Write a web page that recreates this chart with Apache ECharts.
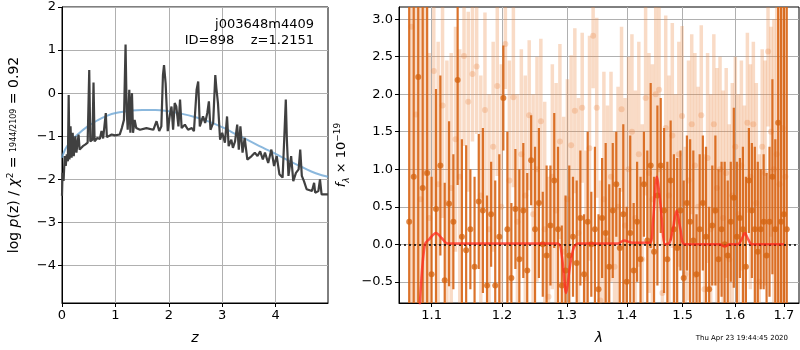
<!DOCTYPE html>
<html>
<head>
<meta charset="utf-8">
<script src="https://cdn.jsdelivr.net/npm/echarts@6/dist/echarts.min.js"></script>
<style>
  html, body { margin: 0; padding: 0; background: #fff; }
  #main { width: 800px; height: 350px; }
</style>
</head>
<body>
<div id="main"></div>
<script>
// ---- left panel: log p(z) ----
var pzZ = [0.00,0.01,0.03,0.05,0.07,0.09,0.11,0.125,0.14,0.16,
  0.18,0.20,0.22,0.25,0.27,0.31,0.33,0.39,0.44,0.48,
  0.51,0.53,0.57,0.59,0.61,0.66,0.71,0.74,0.77,0.82,
  0.84,0.93,0.99,1.08,1.12,1.16,1.19,1.21,1.23,1.26,
  1.28,1.29,1.31,1.33,1.36,1.39,1.46,1.58,1.71,1.77,
  1.82,1.86,1.89,1.91,1.94,1.98,2.02,2.05,2.08,2.11,
  2.14,2.18,2.21,2.24,2.30,2.36,2.43,2.47,2.52,2.55,
  2.58,2.64,2.68,2.72,2.75,2.78,2.83,2.87,2.89,2.92,
  2.96,3.00,3.05,3.09,3.12,3.17,3.20,3.24,3.28,3.31,
  3.34,3.38,3.42,3.47,3.55,3.61,3.66,3.71,3.76,3.80,
  3.86,3.92,3.97,4.02,4.07,4.13,4.16,4.19,4.21,4.24,
  4.29,4.33,4.38,4.43,4.46,4.49,4.53,4.58,4.68,4.72,
  4.74,4.80,4.83,4.86,4.98];
var pzLog = [-2.38,-1.85,-2.04,-1.46,-1.69,-1.42,-1.58,-0.04,-1.54,-0.77,
  -1.50,-0.92,-1.46,-1.00,-1.38,-0.96,-1.31,-1.23,-1.19,-1.15,
  0.54,-1.12,-1.08,0.25,-1.12,-1.04,-1.06,-0.88,-1.05,-0.46,
  -1.02,-0.96,-0.98,-0.96,-0.81,-0.62,1.13,-0.38,-0.85,0.08,
  -0.92,-0.38,0.00,-0.92,-0.62,-0.81,-0.85,-0.81,-0.85,-0.65,
  -0.88,-0.77,0.42,0.65,0.23,-0.88,-0.50,-0.31,-0.85,-0.23,
  -0.31,-0.77,-0.15,-0.81,-0.73,-0.85,-0.81,-0.88,0.08,0.27,
  -0.77,-0.54,-0.69,-0.46,-0.19,-0.85,-0.69,0.42,0.12,-0.23,
  -1.08,-0.92,-1.15,-0.54,-1.23,-1.08,-1.27,-1.12,-0.73,-1.31,
  -0.77,-1.38,-1.04,-1.54,-1.46,-1.38,-1.46,-1.35,-1.54,-1.38,
  -1.62,-1.31,-1.69,-1.46,-1.88,-1.96,-1.08,-0.15,-1.08,-1.92,
  -1.46,-2.04,-1.85,-1.77,-1.31,-1.92,-2.04,-2.23,-2.27,-2.08,
  -2.31,-2.27,-2.00,-2.35,-2.35];
// smooth template curve
var tplZ = [0,0.05,0.1,0.2,0.3,0.45,0.65,0.85,1.05,1.25,1.5,1.75,2.0,2.25,2.5,2.75,3.0,3.25,3.5,3.75,4.0,4.25,4.5,4.75,4.98];
var tplLog = [-1.5,-1.33,-1.22,-1.07,-0.95,-0.8,-0.64,-0.52,-0.45,-0.41,-0.39,-0.39,-0.42,-0.48,-0.56,-0.66,-0.79,-0.95,-1.1,-1.26,-1.41,-1.57,-1.72,-1.86,-1.94];
var zTicks = [0, 1, 2, 3, 4];
var logTicks = [-4, -3, -2, -1, 0, 1, 2];

// ---- right panel: spectrum ----
// darker points (first orient)
var darkLam = [1.070,1.076,1.082,1.088,1.094,1.100,1.106,1.112,1.118,1.124,
  1.130,1.136,1.142,1.148,1.154,1.160,1.166,1.172,1.178,1.184,
  1.190,1.196,1.202,1.208,1.214,1.220,1.226,1.232,1.238,1.244,
  1.250,1.256,1.262,1.268,1.274,1.280,1.286,1.292,1.298,1.304,
  1.310,1.316,1.322,1.328,1.334,1.340,1.346,1.352,1.358,1.364,
  1.370,1.376,1.382,1.388,1.394,1.400,1.406,1.412,1.418,1.424,
  1.430,1.436,1.442,1.448,1.454,1.460,1.466,1.472,1.478,1.484,
  1.490,1.496,1.502,1.508,1.514,1.520,1.526,1.532,1.538,1.544,
  1.550,1.556,1.562,1.568,1.574,1.580,1.586,1.592,1.598,1.604,
  1.610,1.616,1.622,1.628,1.634,1.640,1.646,1.652,1.658,1.664,
  1.670,1.676,1.682,1.688,1.694,1.700,1.706];
var darkFlux = [0.30,0.90,2.23,0.75,0.95,-0.40,0.47,1.05,-0.48,0.54,
  0.30,2.19,0.10,-0.08,0.20,-0.30,0.57,0.45,-0.55,0.40,
  -0.55,0.10,1.95,0.20,-0.45,0.47,-0.20,0.45,-0.35,1.12,
  0.20,0.55,0.00,-0.15,0.25,0.85,0.20,-0.55,-0.35,-0.15,
  0.10,-0.25,0.35,-0.40,0.30,0.00,0.20,-0.60,0.35,0.15,
  -0.30,0.45,0.80,-0.05,0.40,-0.50,0.15,-0.35,0.30,-0.20,
  0.80,0.05,1.05,-0.10,0.65,1.05,0.45,-0.20,0.85,0.20,
  -0.05,0.45,-0.45,0.55,0.30,0.05,-0.40,0.20,0.55,0.10,
  -0.60,0.25,0.45,-0.20,0.20,0.00,-0.15,0.30,0.62,0.10,
  0.35,0.20,-0.30,0.85,0.45,0.20,-0.10,0.20,0.30,-0.15,
  0.30,0.90,0.20,1.62,0.30,0.40,0.20];
var darkErr = [3.5,3.5,3.5,3.0,2.6,1.3,1.6,1.2,1.3,1.1,
  0.9,1.4,1.3,1.4,0.8,1.2,0.9,1.1,1.2,0.7,
  1.4,1.1,0.7,1.3,1.0,0.8,1.2,0.9,1.3,0.6,
  1.1,1.0,0.7,1.2,0.8,0.9,1.1,0.8,1.0,1.2,
  0.8,1.1,0.9,0.8,1.2,0.7,1.1,1.0,0.8,1.2,
  1.1,0.9,0.7,0.8,1.2,1.0,1.3,0.9,0.8,1.1,
  0.7,1.2,1.1,1.0,1.2,0.9,1.1,1.3,0.8,1.0,
  1.2,0.8,1.3,0.9,1.1,1.2,0.8,1.0,0.9,1.2,
  1.1,0.8,1.0,1.2,0.9,1.1,1.0,0.8,1.2,1.0,
  0.8,1.1,1.2,0.7,0.9,1.1,1.2,0.8,0.9,1.1,
  1.0,1.3,1.2,4.0,4.0,4.0,4.0];
// lighter points (second orient)
var lightLam = [1.073,1.079,1.085,1.091,1.097,1.103,1.109,1.115,1.121,1.127,
  1.133,1.139,1.145,1.151,1.157,1.163,1.169,1.175,1.181,1.187,
  1.193,1.199,1.205,1.211,1.217,1.223,1.229,1.235,1.241,1.247,
  1.253,1.259,1.265,1.271,1.277,1.283,1.289,1.295,1.301,1.307,
  1.313,1.319,1.325,1.331,1.337,1.343,1.349,1.355,1.361,1.367,
  1.373,1.379,1.385,1.391,1.397,1.403,1.409,1.415,1.421,1.427,
  1.433,1.439,1.445,1.451,1.457,1.463,1.469,1.475,1.481,1.487,
  1.493,1.499,1.505,1.511,1.517,1.523,1.529,1.535,1.541,1.547,
  1.553,1.559,1.565,1.571,1.577,1.583,1.589,1.595,1.601,1.607,
  1.613,1.619,1.625,1.631,1.637,1.643,1.649,1.655,1.661,1.667,
  1.673,1.679,1.685,1.691,1.697,1.703];
var lightFlux = [2.90,1.73,0.60,0.95,0.35,2.31,0.80,1.85,0.55,0.75,
  1.40,0.90,2.51,1.90,2.27,2.37,0.65,1.79,0.20,1.30,
  2.11,0.50,2.67,0.85,1.96,0.30,1.20,0.65,1.72,0.40,
  1.00,1.64,0.20,-0.70,0.90,0.45,1.37,-0.10,0.60,1.32,
  1.78,0.15,1.82,-0.45,1.28,2.78,1.82,-0.75,0.60,0.05,
  0.90,-0.30,0.50,1.80,0.25,1.00,1.50,0.35,1.20,-0.20,
  1.95,0.95,0.60,2.00,2.06,-0.65,1.55,0.65,1.45,0.30,
  1.20,1.71,-0.40,0.85,1.60,1.05,0.50,1.72,-0.60,1.15,
  0.20,1.60,0.75,1.00,0.35,0.95,-0.20,0.65,1.30,0.40,
  1.05,0.15,1.62,0.90,1.60,0.55,-0.50,1.30,0.95,2.57,
  1.50,1.00,1.20,0.80,1.55,0.90];
var lightErr = [4.0,3.0,3.0,2.5,2.2,1.8,1.9,1.5,1.9,1.8,
  1.5,1.7,1.2,1.2,0.9,0.9,1.6,1.3,1.8,1.4,
  1.2,1.9,0.6,1.6,1.2,1.7,1.4,1.6,1.0,1.6,
  1.5,1.1,1.7,1.6,1.5,1.7,1.3,1.8,1.6,1.2,
  1.1,1.8,1.0,1.7,1.5,0.7,1.2,1.6,1.7,1.8,
  1.4,1.8,1.6,1.1,1.7,1.5,1.3,1.7,1.5,1.8,
  1.3,1.6,1.8,1.2,1.1,1.7,1.5,1.6,1.5,1.7,
  1.5,1.2,1.7,1.6,1.2,1.5,1.6,1.2,1.8,1.4,
  1.8,1.2,1.6,1.5,1.7,1.4,1.8,1.5,1.2,1.6,
  1.4,1.7,1.2,1.5,1.1,1.6,1.7,1.3,1.5,1.0,
  1.4,2.0,3.0,3.5,3.5,3.5];
// line model
var modelLam = [1.078,1.082,1.086,1.091,1.097,1.106,1.114,1.122,1.20,1.286,
  1.292,1.299,1.305,1.311,1.318,1.33,1.385,1.395,1.41,1.44,
  1.446,1.453,1.46,1.468,1.476,1.482,1.489,1.496,1.504,1.57,
  1.58,1.59,1.606,1.613,1.620,1.627,1.634,1.70];
var modelFlux = [-2.5,-1.3,-0.5,0.0,0.07,0.15,0.08,0.01,0.01,0.01,
  -0.15,-0.65,-0.3,-0.05,0.01,0.01,0.01,0.05,0.02,0.02,
  0.3,0.9,0.5,0.0,0.02,0.2,0.45,0.2,0.0,0.0,
  -0.03,0.0,0.0,0.06,0.15,0.06,0.0,0.0];
var lamTicks = [1.1, 1.2, 1.3, 1.4, 1.5, 1.6, 1.7];
var fluxTicks = [-0.5, 0, 0.5, 1.0, 1.5, 2.0, 2.5, 3.0];

var FONT = 'DejaVu Sans';
var minus = function (s) { return String(s).replace('-', '\u2212'); };

function pairs(xs, ys) {
  var out = [];
  for (var i = 0; i < Math.min(xs.length, ys.length); i++) out.push([xs[i], ys[i]]);
  return out;
}
function errData(lam, f, e) {
  var out = [];
  for (var i = 0; i < lam.length; i++) out.push([Math.log(lam[i]), f[i], e[i]]);
  return out;
}
function errBars(width, color) {
  return function (params, api) {
    var x = api.value(0), y = api.value(1), e = api.value(2);
    var lo = api.coord([x, y - e]);
    var hi = api.coord([x, y + e]);
    return {
      type: 'line',
      shape: { x1: lo[0], y1: lo[1], x2: hi[0], y2: hi[1] },
      style: { stroke: color, lineWidth: width }
    };
  };
}

var axisCommon = {
  axisLine: { show: true, onZero: false, lineStyle: { color: '#000', width: 1 } },
  axisTick: { show: true, inside: false, length: 4, lineStyle: { color: '#000' } },
  splitLine: { show: true, lineStyle: { color: '#b0b0b0', width: 1 } },
  axisLabel: { color: '#000', fontFamily: FONT, fontSize: 13, margin: 6 },
  nameTextStyle: { color: '#000', fontFamily: FONT, fontSize: 13 }
};
function ax(extra) {
  var o = JSON.parse(JSON.stringify(axisCommon));
  for (var k in extra) {
    if (typeof extra[k] === 'object' && o[k] && !Array.isArray(extra[k])) {
      for (var j in extra[k]) o[k][j] = extra[k][j];
    } else o[k] = extra[k];
  }
  return o;
}

var chart = echarts.init(document.getElementById('main'));

var option = {
  animation: false,
  backgroundColor: '#fff',
  grid: [
    { left: 62, top: 7, width: 266, height: 297, show: true, borderColor: '#000', borderWidth: 1, backgroundColor: 'transparent' },
    { left: 399, top: 7, width: 400, height: 297, show: true, borderColor: '#000', borderWidth: 1, backgroundColor: 'transparent' }
  ],
  xAxis: [
    ax({
      type: 'value', gridIndex: 0, min: 0, max: 4.98,
      name: 'z', nameLocation: 'middle', nameGap: 28,
      nameTextStyle: { fontStyle: 'italic', fontSize: 14 },
      axisTick: { customValues: zTicks },
      axisLabel: { customValues: zTicks, formatter: function (v) { return minus(v); } }
    }),
    ax({
      type: 'value', gridIndex: 1, min: Math.log(1.0566), max: Math.log(1.732),
      name: '\u03bb', nameLocation: 'middle', nameGap: 28,
      nameTextStyle: { fontStyle: 'italic', fontSize: 14 },
      axisTick: { customValues: lamTicks.map(Math.log) },
      axisLabel: { customValues: lamTicks.map(Math.log), formatter: function (v) { return Math.exp(v).toFixed(1); } }
    })
  ],
  yAxis: [
    ax({
      type: 'value', gridIndex: 0, min: -4.87, max: 2,
      name: '{t|log }{i|p}{t|(z) / }{i|\u03c7}{sup|2}{t| = }{f|1944/2109}{t| = 0.92}',
      nameLocation: 'middle', nameGap: 40,
      nameTextStyle: {
        rich: {
          t: { fontFamily: FONT, fontSize: 14, color: '#000' },
          i: { fontFamily: FONT, fontSize: 14, fontStyle: 'italic', color: '#000' },
          sup: { fontFamily: FONT, fontSize: 9, color: '#000', verticalAlign: 'top', lineHeight: 16 },
          f: { fontFamily: FONT, fontSize: 8, color: '#000' }
        }
      },
      axisTick: { customValues: logTicks },
      axisLabel: { customValues: logTicks, formatter: function (v) { return minus(v); } }
    }),
    ax({
      type: 'value', gridIndex: 1, min: -0.783, max: 3.163,
      name: '{i|f}{sub|\u03bb}{t| \u00d7 10}{sup|\u221219}',
      nameLocation: 'middle', nameGap: 48,
      nameTextStyle: {
        rich: {
          t: { fontFamily: FONT, fontSize: 13, color: '#000' },
          i: { fontFamily: FONT, fontSize: 13, fontStyle: 'italic', color: '#000' },
          sub: { fontFamily: FONT, fontSize: 9, fontStyle: 'italic', color: '#000', verticalAlign: 'bottom', lineHeight: 18 },
          sup: { fontFamily: FONT, fontSize: 9, color: '#000', verticalAlign: 'top', lineHeight: 18 }
        }
      },
      axisTick: { customValues: fluxTicks },
      axisLabel: { customValues: fluxTicks, formatter: function (v) { return minus(v.toFixed(1)); } }
    })
  ],
  graphic: [
    {
      type: 'text', x: 314, y: 17, z: 100,
      style: { text: 'j003648m4409\nID=898    z=1.2151', align: 'right', fontFamily: FONT, fontSize: 13, lineHeight: 16, fill: '#000' }
    },
    {
      type: 'text', x: 788, y: 335, z: 100,
      style: { text: 'Thu Apr 23 19:44:45 2020', align: 'right', fontFamily: FONT, fontSize: 7, fill: '#000' }
    }
  ],
  series: [
    {
      type: 'line', xAxisIndex: 0, yAxisIndex: 0, data: pairs(tplZ, tplLog),
      smooth: true, showSymbol: false, clip: true,
      lineStyle: { color: 'rgba(100,160,210,0.75)', width: 2 }, z: 2
    },
    {
      type: 'line', xAxisIndex: 0, yAxisIndex: 0, data: pairs(pzZ, pzLog),
      showSymbol: false, clip: true,
      lineStyle: { color: '#404040', width: 2.2 }, z: 3
    },
    {
      type: 'custom', xAxisIndex: 1, yAxisIndex: 1, clip: true, z: 2,
      data: errData(lightLam, lightFlux, lightErr),
      renderItem: errBars(3.5, 'rgba(235,135,65,0.3)')
    },
    {
      type: 'scatter', xAxisIndex: 1, yAxisIndex: 1, clip: true, z: 3,
      data: errData(lightLam, lightFlux, lightErr), symbolSize: 6,
      itemStyle: { color: 'rgba(232,130,60,0.35)' }
    },
    {
      type: 'custom', xAxisIndex: 1, yAxisIndex: 1, clip: true, z: 4,
      data: errData(darkLam, darkFlux, darkErr),
      renderItem: errBars(2.2, 'rgba(215,100,20,0.9)')
    },
    {
      type: 'scatter', xAxisIndex: 1, yAxisIndex: 1, clip: true, z: 5,
      data: errData(darkLam, darkFlux, darkErr), symbolSize: 6,
      itemStyle: { color: 'rgba(212,98,15,0.95)' }
    },
    {
      type: 'line', xAxisIndex: 1, yAxisIndex: 1, clip: true, z: 6,
      data: modelLam.map(function (l, i) { return [Math.log(l), modelFlux[i]]; }),
      smooth: 0.3, showSymbol: false,
      lineStyle: { color: 'rgba(255,40,30,0.75)', width: 2.5 },
      markLine: {
        silent: true, symbol: 'none', animation: false,
        label: { show: false },
        lineStyle: { color: '#000', type: [2, 3], width: 1.5 },
        data: [{ yAxis: 0 }]
      }
    }
  ]
};

chart.setOption(option);
</script>
</body>
</html>
